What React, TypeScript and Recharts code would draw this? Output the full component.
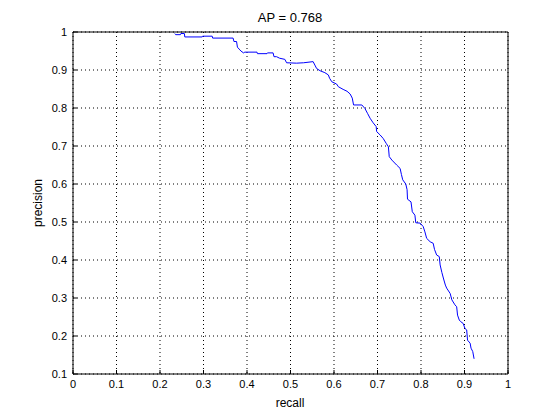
import { LineChart, Line, XAxis, YAxis, CartesianGrid } from "recharts";

// precision / recall points
const recall = [
  0.234, 0.236, 0.247, 0.248, 0.256, 0.257, 0.297, 0.298, 0.32, 0.321, 0.368,
  0.37, 0.376, 0.378, 0.382, 0.386, 0.392, 0.395, 0.423, 0.424, 0.446, 0.447,
  0.46, 0.462, 0.468, 0.475, 0.487, 0.491, 0.514, 0.53, 0.552, 0.556, 0.56,
  0.568, 0.579, 0.587, 0.59, 0.595, 0.606, 0.61, 0.621, 0.63, 0.637, 0.642,
  0.645, 0.664, 0.671, 0.677, 0.683, 0.69, 0.697, 0.698, 0.706, 0.713, 0.72,
  0.725, 0.727, 0.733, 0.744, 0.752, 0.755, 0.758, 0.765, 0.768, 0.769, 0.777,
  0.78, 0.786, 0.788, 0.798, 0.805, 0.809, 0.813, 0.821, 0.828, 0.831, 0.836,
  0.842, 0.844, 0.848, 0.852, 0.856, 0.859, 0.867, 0.871, 0.878, 0.882, 0.884,
  0.888, 0.891, 0.897, 0.901, 0.905, 0.907, 0.913, 0.915, 0.919, 0.922,
];
const precision = [
  0.996, 0.993, 0.993, 0.996, 0.996, 0.987, 0.987, 0.989, 0.989, 0.984, 0.984,
  0.975, 0.975, 0.96, 0.955, 0.95, 0.945, 0.947, 0.947, 0.943, 0.943, 0.945,
  0.945, 0.935, 0.935, 0.931, 0.928, 0.919, 0.918, 0.919, 0.922, 0.913, 0.904,
  0.898, 0.893, 0.887, 0.878, 0.869, 0.863, 0.856, 0.849, 0.844, 0.837, 0.826,
  0.808, 0.808, 0.799, 0.786, 0.773, 0.761, 0.751, 0.738, 0.729, 0.72, 0.707,
  0.698, 0.672, 0.663, 0.65, 0.641, 0.625, 0.611, 0.6, 0.585, 0.56, 0.553,
  0.527, 0.518, 0.498, 0.497, 0.488, 0.474, 0.457, 0.448, 0.444, 0.428, 0.413,
  0.409, 0.387, 0.367, 0.35, 0.334, 0.326, 0.312, 0.295, 0.282, 0.277, 0.255,
  0.242, 0.238, 0.233, 0.22, 0.216, 0.189, 0.181, 0.168, 0.159, 0.14,
];

const xTicks = [0, 0.1, 0.2, 0.3, 0.4, 0.5, 0.6, 0.7, 0.8, 0.9, 1];
const yTicks = [0.1, 0.2, 0.3, 0.4, 0.5, 0.6, 0.7, 0.8, 0.9, 1];
const title = "AP = 0.768";

const data = recall.map((r, i) => ({ recall: r, precision: precision[i] }));

const font = "'Liberation Sans', Arial, sans-serif";
const tickStyle = { fill: "#000", fontSize: 11, fontFamily: font };

export default function App() {
  return (
    <div style={{ position: "absolute", left: 0, top: 0, width: 560, height: 420, background: "#fff" }}>
      <LineChart width={560} height={420} data={data} margin={{ top: 0, right: 0, bottom: 0, left: 0 }}>
        <CartesianGrid stroke="#000" strokeDasharray="1 3" />
        <XAxis
          dataKey="recall"
          type="number"
          domain={[0, 1]}
          ticks={xTicks}
          allowDataOverflow
          height={46}
          tick={tickStyle}
          tickSize={-4}
          tickMargin={10}
          axisLine={{ stroke: "#000" }}
          tickLine={{ stroke: "#000" }}
        />
        <XAxis
          xAxisId="top"
          orientation="top"
          dataKey="recall"
          type="number"
          domain={[0, 1]}
          ticks={xTicks}
          height={32}
          tick={false}
          tickSize={-4}
          axisLine={{ stroke: "#000" }}
          tickLine={{ stroke: "#000" }}
        />
        <YAxis
          dataKey="precision"
          type="number"
          domain={[0.1, 1]}
          ticks={yTicks}
          allowDataOverflow
          width={73}
          tick={tickStyle}
          tickSize={-4}
          tickMargin={10}
          axisLine={{ stroke: "#000" }}
          tickLine={{ stroke: "#000" }}
        />
        <YAxis
          yAxisId="right"
          orientation="right"
          dataKey="precision"
          type="number"
          domain={[0.1, 1]}
          ticks={yTicks}
          width={52}
          tick={false}
          tickSize={-4}
          axisLine={{ stroke: "#000" }}
          tickLine={{ stroke: "#000" }}
        />
        <Line
          dataKey="precision"
          type="linear"
          stroke="#0000ff"
          strokeWidth={1}
          dot={false}
          isAnimationActive={false}
        />
      </LineChart>
      <div style={{ position: "absolute", left: 190, width: 200, top: 10, textAlign: "center", fontFamily: font, fontSize: 13 }}>
        {title}
      </div>
      <div style={{ position: "absolute", left: 190, width: 200, top: 396, textAlign: "center", fontFamily: font, fontSize: 12 }}>
        recall
      </div>
      <div
        style={{
          position: "absolute",
          left: 38,
          top: 203,
          width: 100,
          textAlign: "center",
          fontFamily: font,
          fontSize: 12,
          transform: "translate(-50%, -50%) rotate(-90deg)",
        }}
      >
        precision
      </div>
    </div>
  );
}
